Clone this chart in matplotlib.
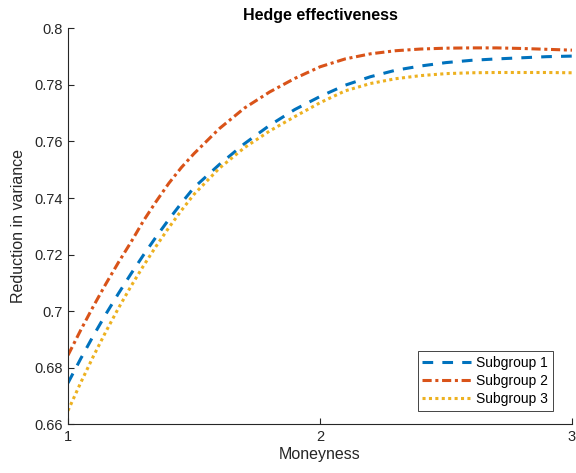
import matplotlib
matplotlib.use("Agg")
import matplotlib.pyplot as plt

# moneyness grid and hedge effectiveness
moneyness = [1.0, 1.05, 1.1, 1.15, 1.2, 1.25, 1.3, 1.35, 1.4, 1.45, 1.5,
             1.6, 1.7, 1.8, 1.9, 2.0, 2.1, 2.2, 2.3, 2.4, 2.5,
             2.6, 2.7, 2.8, 2.9, 3.0]
subgroup1 = [0.6746, 0.6831, 0.6912, 0.6989, 0.7062, 0.7132, 0.7199, 0.7263, 0.7324, 0.7382, 0.7437,
             0.7518, 0.7592, 0.7657, 0.7713, 0.7759, 0.7799, 0.7829, 0.7852, 0.7867, 0.7879,
             0.7887, 0.7892, 0.7896, 0.7900, 0.7902]
subgroup2 = [0.6844, 0.6932, 0.7016, 0.7096, 0.7172, 0.7244, 0.7320, 0.7388, 0.7452, 0.7508, 0.7557,
             0.7645, 0.7718, 0.7775, 0.7823, 0.7864, 0.7892, 0.7910, 0.7921, 0.7927, 0.7930,
             0.7931, 0.7931, 0.7929, 0.7926, 0.7923]
subgroup3 = [0.6648, 0.6746, 0.6839, 0.6927, 0.7010, 0.7088, 0.7161, 0.7230, 0.7295, 0.7356, 0.7413,
             0.7505, 0.7578, 0.7637, 0.7688, 0.7737, 0.7779, 0.7805, 0.7822, 0.7833, 0.7840,
             0.7843, 0.7844, 0.7844, 0.7844, 0.7843]

yticks = [0.66, 0.68, 0.70, 0.72, 0.74, 0.76, 0.78, 0.80]
ytick_labels = ["0.66", "0.68", "0.7", "0.72", "0.74", "0.76", "0.78", "0.8"]
xticks = [1, 2, 3]

plt.rcParams["font.family"] = ["Liberation Sans", "DejaVu Sans"]
axis_col = "#262626"

fig = plt.figure(figsize=(5.76, 4.73), dpi=100)
ax = fig.add_axes([0.118, 0.103, 0.875, 0.837])

ax.plot(moneyness, subgroup1, color="#0072BD", linewidth=2.2,
        dashes=(3.5, 3.0), label="Subgroup 1")
ax.plot(moneyness, subgroup2, color="#D95319", linewidth=2.2,
        dashes=(3.0, 1.2, 1.0, 1.2), label="Subgroup 2")
ax.plot(moneyness, subgroup3, color="#EDB120", linewidth=2.2,
        dashes=(1.0, 1.1), dash_capstyle="butt", label="Subgroup 3")

ax.set_xlim(1, 3)
ax.set_ylim(0.66, 0.80)
ax.set_xticks(xticks)
ax.set_xticklabels([str(x) for x in xticks])
ax.set_yticks(yticks)
ax.set_yticklabels(ytick_labels)

for side in ["top", "right"]:
    ax.spines[side].set_visible(False)
for side in ["left", "bottom"]:
    ax.spines[side].set_color(axis_col)
    ax.spines[side].set_linewidth(0.8)
ax.tick_params(direction="in", length=4, width=0.8, colors=axis_col,
               labelsize=10.5, pad=4)

ax.set_xlabel("Moneyness", fontsize=11.5, color=axis_col, labelpad=2)
ax.set_ylabel("Reduction in variance", fontsize=11.5, color=axis_col, labelpad=6)
ax.set_title("Hedge effectiveness", fontsize=11.5, fontweight="bold", pad=6)

leg = ax.legend(loc="lower right", bbox_to_anchor=(0.962, 0.034), borderaxespad=0,
                fontsize=10, handlelength=3.5, fancybox=False, framealpha=1,
                borderpad=0.35, labelspacing=0.3, handletextpad=0.35)
leg.get_frame().set_edgecolor(axis_col)
leg.get_frame().set_linewidth(0.6)

fig.savefig("out.png", dpi=100)
